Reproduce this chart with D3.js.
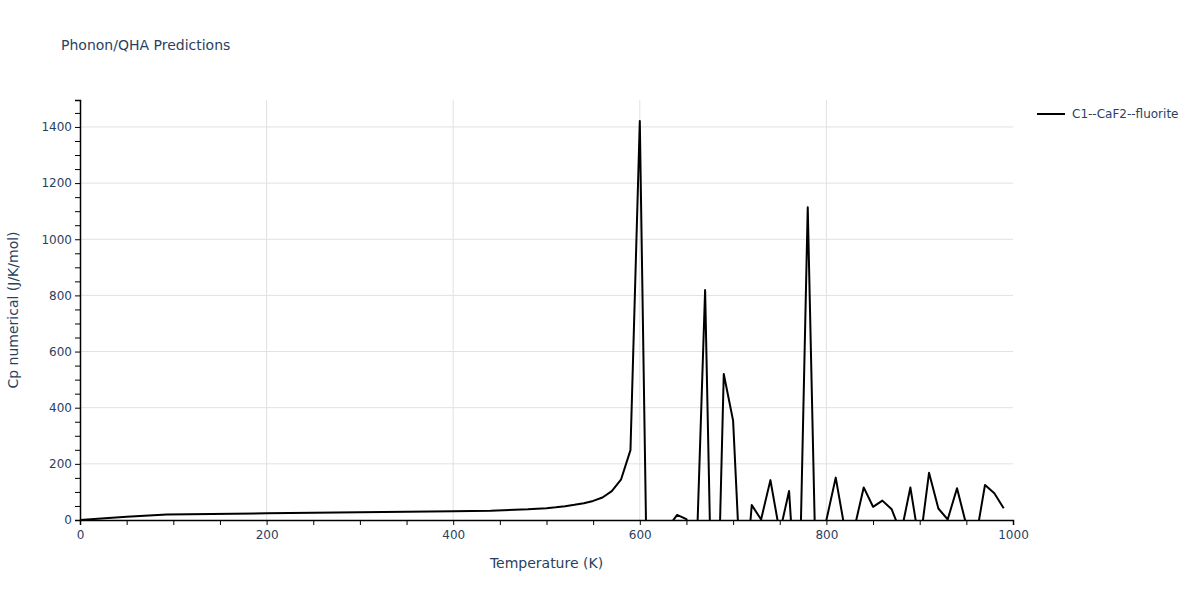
<!DOCTYPE html>
<html><head><meta charset="utf-8">
<script src="https://cdn.jsdelivr.net/npm/d3@7"></script>
<style>body{margin:0;background:#fff;} text{font-family:"DejaVu Sans",Verdana,Arial,sans-serif;}</style>
</head><body>
<svg id="c" width="1200" height="600"></svg>
<script>
const title = "Phonon/QHA Predictions";
const seriesName = "C1--CaF2--fluorite";
const xLabel = "Temperature (K)";
const yLabel = "Cp numerical (J/K/mol)";
const temperature = [0,50,93,200,300,400,440,480,500,510,520,530,540,550,560,570,580,590,600,
  610,620,630,640,650,660,670,680,690,700,710,720,730,740,750,760,770,780,790,800,
  810,820,830,840,850,860,870,880,890,900,910,920,930,940,950,960,970,980,990];
const cp = [0,12,20,24,28,31,33,38,42,45,49,54,60,68,80,103,145,249,1421,
  -730,-300,-27,18,3,-205,819,-800,520,354,-340,53,2,142,-45,103,-420,1114,-391,0,
  151,-38,-29,116,47,69,38,-47,116,-90,168,41,2,113,-18,-70,125,95,42];
const xTicks = [0,200,400,600,800,1000];
const yTicks = [0,200,400,600,800,1000,1200,1400];
const xDomain = [0,1000], yDomain = [0,1496];

const svg = d3.select("#c");
const L=80, R=1013, T=100, B=520;
const x = d3.scaleLinear().domain(xDomain).range([L,R]);
const y = d3.scaleLinear().domain(yDomain).range([B,T]);
const tc = "#2a3f5f";

// gridlines
svg.append("g").selectAll("line").data(yTicks.filter(d=>d>0)).join("line")
  .attr("x1",L).attr("x2",R).attr("y1",d=>y(d)).attr("y2",d=>y(d))
  .attr("stroke","#e1e1e1").attr("stroke-width",1);
svg.append("g").selectAll("line").data(xTicks.filter(d=>d>0&&d<1000)).join("line")
  .attr("y1",T).attr("y2",B).attr("x1",d=>x(d)).attr("x2",d=>x(d))
  .attr("stroke","#e1e1e1").attr("stroke-width",1);

// clip
svg.append("clipPath").attr("id","clip").append("rect")
  .attr("x",L).attr("y",T).attr("width",R-L).attr("height",B-T);

const line = d3.line().x((d,i)=>x(temperature[i])).y(d=>y(d));
svg.append("path").datum(cp).attr("d",line).attr("clip-path","url(#clip)")
  .attr("fill","none").attr("stroke","#000").attr("stroke-width",2).attr("stroke-linejoin","round");

// axes
const xAxis = d3.axisBottom(x).tickValues(d3.range(0,1001,50)).tickSize(5)
  .tickFormat(d=>xTicks.includes(d)?d:"");
const gx = svg.append("g").attr("transform",`translate(0,${B})`).call(xAxis);
gx.select(".domain").attr("stroke","#000").attr("stroke-width",1.5);
gx.selectAll(".tick line").attr("stroke","#000");
gx.selectAll(".tick text").attr("fill",tc).style("font-size","12px").attr("dy","0.95em");

const yAxis = d3.axisLeft(y).tickValues(d3.range(0,1496,50)).tickSize(5)
  .tickFormat(d=>yTicks.includes(d)?d:"");
const gy = svg.append("g").attr("transform",`translate(${L},0)`).call(yAxis);
gy.select(".domain").attr("stroke","#000").attr("stroke-width",1.5);
gy.selectAll(".tick line").attr("stroke","#000");
gy.selectAll(".tick text").attr("fill",tc).style("font-size","12px");

// titles
svg.append("text").attr("x",61).attr("y",50).text(title).attr("fill",tc).style("font-size","14px");
svg.append("text").attr("x",(L+R)/2).attr("y",568).attr("text-anchor","middle")
  .text(xLabel).attr("fill",tc).style("font-size","14px");
svg.append("text").attr("transform",`translate(18,${(T+B)/2}) rotate(-90)`).attr("text-anchor","middle")
  .text(yLabel).attr("fill",tc).style("font-size","14px");

// legend
svg.append("line").attr("x1",1037).attr("x2",1065).attr("y1",114).attr("y2",114)
  .attr("stroke","#000").attr("stroke-width",2);
svg.append("text").attr("x",1072).attr("y",118).text(seriesName).attr("fill",tc).style("font-size","12px");
</script>
</body></html>
